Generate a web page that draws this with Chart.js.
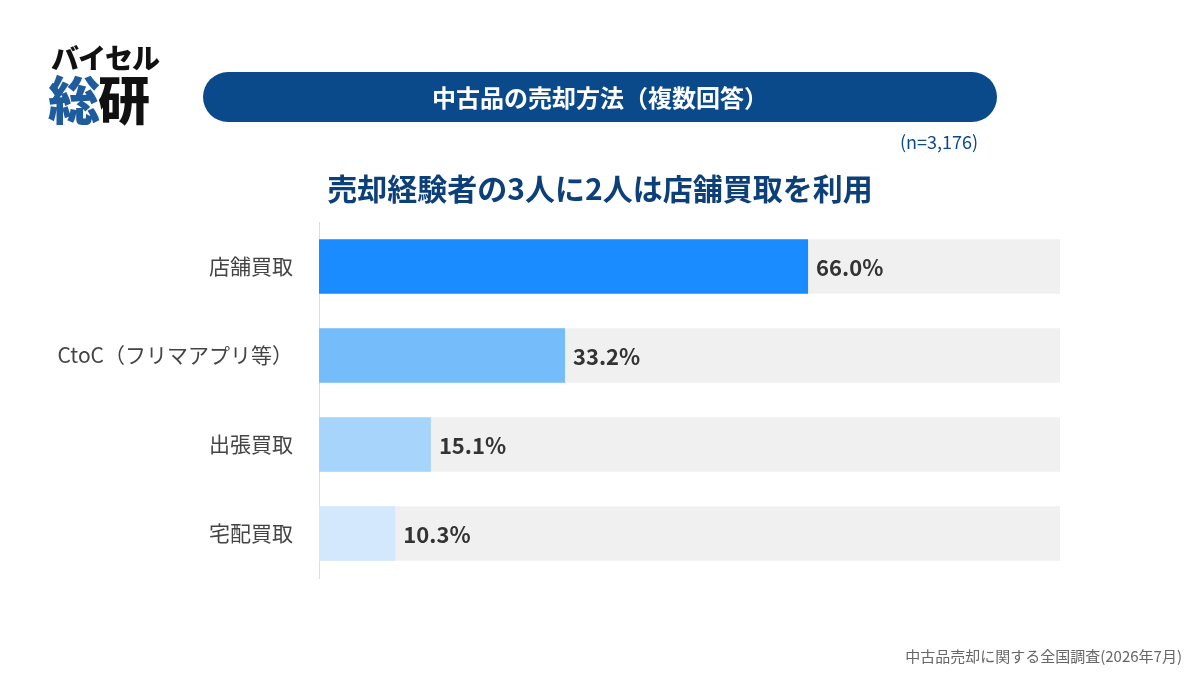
<!DOCTYPE html>
<html>
<head>
<meta charset="utf-8">
<script src="https://cdn.jsdelivr.net/npm/chart.js@4"></script>
<style>
  body { margin: 0; background: #fff; font-family: "Noto Sans CJK JP", "Noto Sans", sans-serif; }
  #wrap { position: relative; width: 1200px; height: 675px; overflow: hidden; }
  #myChart { position: absolute; left: 0; top: 0; }
  .logo1 { position: absolute; left: 51px; top: 37px; font-size: 28px; font-weight: 900; color: #111; letter-spacing: -1px; }
  .logo2 { position: absolute; left: 48px; top: 66px; font-size: 52px; font-weight: 900; line-height: 64px; letter-spacing: -2px; }
  .pill { position: absolute; left: 203px; top: 72px; width: 794px; height: 50px; border-radius: 25px; background: #0b4a8a;
          color: #fff; font-size: 24px; font-weight: 700; text-align: center; line-height: 50px; }
  .n { position: absolute; right: 222px; top: 128px; font-size: 18px; color: #0b4a8a; }
  .headline { position: absolute; left: 0; width: 1200px; top: 165px; text-align: center; font-size: 30px; font-weight: 700; color: #0d3f78; }
  .foot { position: absolute; right: 18px; top: 645px; font-size: 15px; color: #666; }
</style>
</head>
<body>
<div id="wrap">
  <canvas id="myChart" width="1200" height="675"></canvas>
  <div class="logo1">バイセル</div>
  <div class="logo2"><span style="color:#1f5c9e">総</span><span style="color:#111">研</span></div>
  <div class="pill">中古品の売却方法（複数回答）</div>
  <div class="n">(n=3,176)</div>
  <div class="headline">売却経験者の3人に2人は店舗買取を利用</div>
  <div class="foot">中古品売却に関する全国調査(2026年7月)</div>
</div>
<script>
const categories = ['店舗買取', 'CtoC（フリマアプリ等）', '出張買取', '宅配買取'];
const values = [66.0, 33.2, 15.1, 10.3];
const trackValues = [100, 100, 100, 100];
const barColors = ['#1a8cff', '#74bcfa', '#a7d4fb', '#d3e8fd'];

// percent labels right of each bar
const valueLabels = {
  id: 'valueLabels',
  afterDatasetsDraw(chart) {
    const ctx = chart.ctx;
    const meta = chart.getDatasetMeta(0);
    ctx.save();
    ctx.font = 'bold 22px "Noto Sans CJK JP", "Noto Sans", sans-serif';
    ctx.fillStyle = '#333';
    ctx.textAlign = 'left';
    ctx.textBaseline = 'middle';
    meta.data.forEach((bar, i) => {
      ctx.fillText(values[i].toFixed(1) + '%', bar.x + 8, bar.y + 1);
    });
    ctx.restore();
  }
};

var ctx = document.getElementById('myChart').getContext('2d');
var myChart = new Chart(ctx, {
  type: 'bar',
  data: {
    labels: categories,
    datasets: [{
      data: values,
      backgroundColor: barColors,
      borderWidth: 0,
      order: 1,
      barPercentage: 0.61,
      categoryPercentage: 1
    }, {
      data: trackValues,
      backgroundColor: '#f0f0f0',
      borderWidth: 0,
      order: 2,
      barPercentage: 0.61,
      categoryPercentage: 1
    }]
  },
  options: {
    indexAxis: 'y',
    responsive: false,
    animation: false,
    grouped: false,
    layout: {
      padding: { top: 222, bottom: 97, right: 140, left: 0 }
    },
    plugins: {
      legend: { display: false },
      tooltip: { enabled: false }
    },
    scales: {
      x: {
        display: false,
        min: 0,
        max: 100
      },
      y: {
        grid: { display: false },
        border: { display: true, color: '#dddddd', width: 1 },
        afterFit: function (scale) { scale.width = 319; },
        ticks: {
          padding: 18,
          color: '#444',
          font: { size: 21, family: '"Noto Sans CJK JP", "Noto Sans", sans-serif' }
        }
      }
    }
  },
  plugins: [valueLabels]
});
</script>
</body>
</html>
